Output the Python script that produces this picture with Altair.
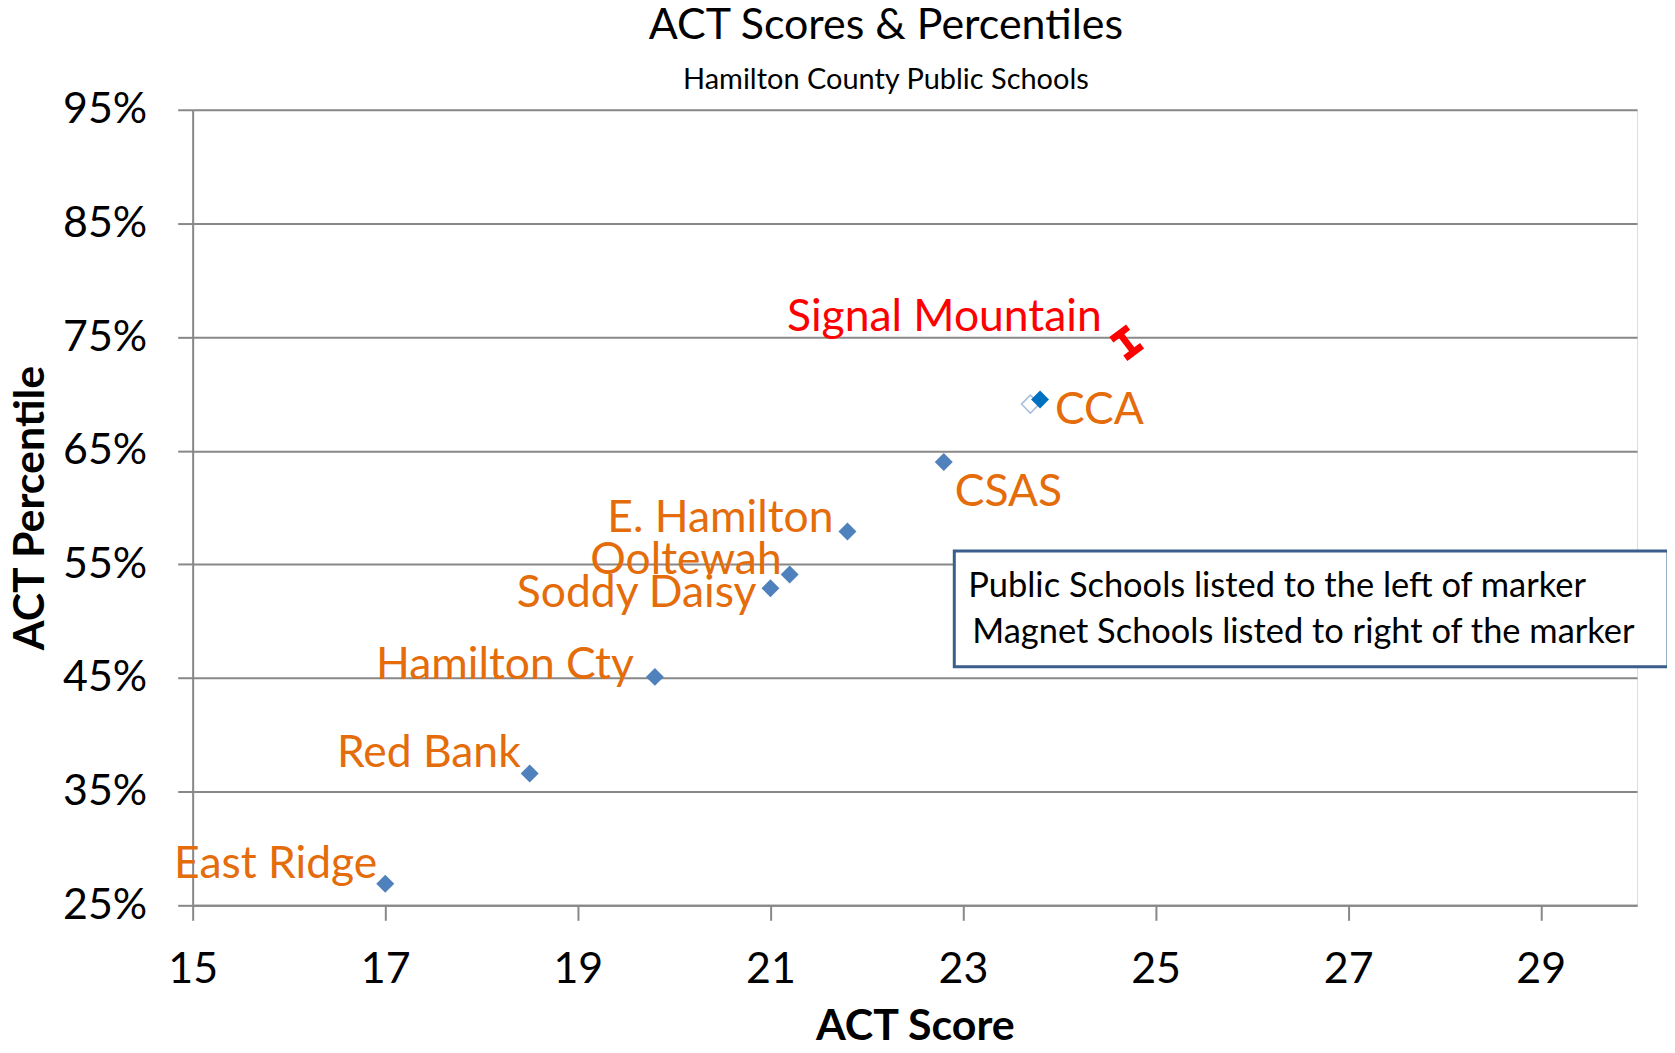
import altair as alt
import pandas as pd

# ---- data ----
schools = ["East Ridge", "Red Bank", "Hamilton Cty", "Soddy Daisy", "Ooltewah",
           "E. Hamilton", "CSAS", "CCA", "Signal Mountain"]
act_score = [17.0, 18.5, 19.8, 21.0, 21.2, 21.8, 22.8, 23.8, 24.7]
act_percentile = [0.269, 0.366, 0.451, 0.529, 0.541, 0.579, 0.640, 0.695, 0.745]
school_type = ["Public", "Public", "Public", "Public", "Public", "Public",
               "Magnet", "Magnet", "Public"]

# faint hollow marker sitting just behind CCA
ghost_score = [23.7]
ghost_percentile = [0.691]

x_ticks = [15, 17, 19, 21, 23, 25, 27, 29]
y_ticks = [0.25, 0.35, 0.45, 0.55, 0.65, 0.75, 0.85, 0.95]

note_lines = ["Public Schools listed to the left of marker",
              "Magnet Schools listed to right of the marker"]

# ---- styling ----
FONT = "Lato"
ORANGE = "#E46C0A"
GRID = "#888888"
W, H = 1447, 797

marker_color = {s: "#4F81BD" for s in schools}
marker_color["CCA"] = "#0070C0"
marker_color["Signal Mountain"] = "#FF0000"

label_color = {s: ORANGE for s in schools}
label_color["Signal Mountain"] = "#FF0000"

# (align, dx, dy) label nudges in pixels
label_style = {
    "East Ridge": ("right", -8, -19),
    "Red Bank": ("right", -9, -19),
    "Hamilton Cty": ("right", -21, -11),
    "Soddy Daisy": ("right", -14, 6),
    "Ooltewah": ("right", -8, -14),
    "E. Hamilton": ("right", -14, -12),
    "CSAS": ("left", 11, 31),
    "CCA": ("left", 15, 11),
    "Signal Mountain": ("right", -25, -25),
}

IBEAM = ("M-0.7,-1 L0.7,-1 L0.7,-0.55 L0.22,-0.55 L0.22,0.55 L0.7,0.55 "
         "L0.7,1 L-0.7,1 L-0.7,0.55 L-0.22,0.55 L-0.22,-0.55 L-0.7,-0.55 Z")

df = pd.DataFrame({"school": schools, "score": act_score,
                   "pct": act_percentile, "type": school_type})
ghost_df = pd.DataFrame({"score": ghost_score, "pct": ghost_percentile})

x_enc = alt.X("score:Q",
              scale=alt.Scale(domain=[15, 30], nice=False, zero=False),
              axis=alt.Axis(values=x_ticks, format="d", grid=False, title="ACT Score",
                            domainColor=GRID, domainWidth=2,
                            tickColor=GRID, tickWidth=2, tickSize=15,
                            labelFont=FONT, labelFontSize=43, labelColor="black",
                            labelPadding=28, labelFlush=False,
                            titleFont=FONT, titleFontSize=43, titleFontWeight="bold",
                            titleColor="black", titleBaseline="middle", titleY=121))
y_enc = alt.Y("pct:Q",
              scale=alt.Scale(domain=[0.25, 0.95], nice=False, zero=False),
              axis=alt.Axis(values=y_ticks, format=".0%", grid=True,
                            gridColor=GRID, gridWidth=2,
                            title="ACT Percentile",
                            domainColor=GRID, domainWidth=2,
                            tickColor=GRID, tickWidth=2, tickSize=15,
                            labelFont=FONT, labelFontSize=43, labelColor="black",
                            labelPadding=31, labelFlush=False,
                            titleFont=FONT, titleFontSize=43, titleFontWeight="bold",
                            titleColor="black", titleBaseline="middle",
                            titleX=-162, titleY=H / 2, titleAngle=270))

base = alt.Chart(df)

ghost = alt.Chart(ghost_df).mark_point(
    shape="diamond", filled=True, fill="white", stroke="#A9BEDC",
    strokeWidth=1.5, size=324, opacity=1
).encode(x=x_enc, y=y_enc)

diamonds = base.transform_filter(
    alt.datum.school != "Signal Mountain"
).mark_point(shape="diamond", filled=True, size=324, opacity=1).encode(
    x=x_enc, y=y_enc,
    color=alt.Color("school:N",
                    scale=alt.Scale(domain=schools,
                                    range=[marker_color[s] for s in schools]),
                    legend=None),
)

signal = base.transform_filter(
    alt.datum.school == "Signal Mountain"
).mark_point(shape=IBEAM, filled=True, color="#FF0000", size=900,
             angle=323, opacity=1).encode(x=x_enc, y=y_enc)

labels = []
for s in schools:
    align, dx, dy = label_style[s]
    labels.append(
        base.transform_filter(alt.datum.school == s).mark_text(
            align=align, baseline="middle", dx=dx, dy=dy,
            font=FONT, fontSize=44.5, color=label_color[s]
        ).encode(x="score:Q", y="pct:Q", text="school:N")
    )

one = pd.DataFrame({"k": [0]})
box = alt.Chart(one).mark_rect(fill="white", stroke="#3B5E8C", strokeWidth=3).encode(
    x=alt.value(763), x2=alt.value(1478), y=alt.value(442), y2=alt.value(558)
)
note1 = alt.Chart(one).mark_text(align="left", baseline="middle", font=FONT,
                                 fontSize=34.5, color="black", text=note_lines[0]).encode(
    x=alt.value(777), y=alt.value(478))
note2 = alt.Chart(one).mark_text(align="left", baseline="middle", font=FONT,
                                 fontSize=34.5, color="black", text=note_lines[1]).encode(
    x=alt.value(781), y=alt.value(524))

chart = alt.layer(ghost, diamonds, signal, *labels, box, note1, note2).properties(
    width=W, height=H,
    title=alt.Title("ACT Scores & Percentiles",
                    subtitle="Hamilton County Public Schools",
                    font=FONT, fontSize=43, fontWeight="normal", color="black",
                    subtitleFont=FONT, subtitleFontSize=29, subtitleColor="black",
                    anchor="middle", frame="group", dx=-29, offset=-6,
                    subtitlePadding=18),
    autosize=alt.AutoSizeParams(type="none"),
    padding={"left": 185, "top": 101, "right": 30, "bottom": 139},
).configure_view(stroke=None).configure(font=FONT)

chart.save("out.html", embed_options={"renderer": "svg", "actions": False})
